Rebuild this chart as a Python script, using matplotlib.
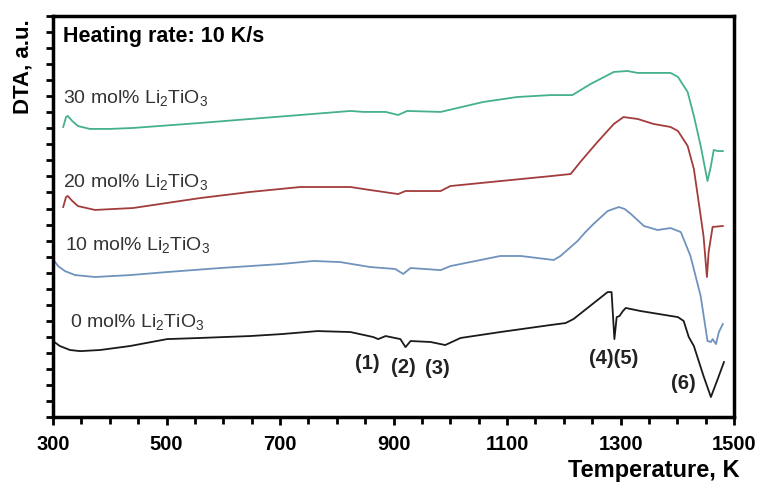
import matplotlib
matplotlib.use("Agg")
import matplotlib.pyplot as plt
from matplotlib.ticker import MultipleLocator, NullFormatter

plt.rcParams['font.family'] = ['Liberation Sans', 'DejaVu Sans']
plt.rcParams['mathtext.fontset'] = 'custom'
plt.rcParams['mathtext.rm'] = 'Liberation Sans'
plt.rcParams['mathtext.default'] = 'regular'

# ---- data (temperature K, DTA a.u.) ----
t30 = [318, 323, 326, 334, 344, 365, 401, 441, 559, 647, 736, 824, 847, 886, 908, 924, 983, 1058, 1118,
       1177, 1215, 1247, 1288, 1312, 1330, 1388, 1401, 1418, 1429, 1441, 1453, 1459, 1464, 1471, 1480]
d30 = [18.08, 18.70, 18.77, 18.45, 18.14, 17.96, 17.96, 18.02, 18.33, 18.58, 18.83, 19.08, 19.02, 19.02,
       18.83, 19.08, 19.02, 19.64, 19.95, 20.07, 20.07, 20.76, 21.51, 21.57, 21.45, 21.45, 21.20, 20.26,
       18.77, 16.90, 14.71, 15.65, 16.65, 16.58, 16.58]

t20 = [318, 323, 326, 334, 344, 374, 441, 559, 647, 736, 824, 859, 908, 921, 983, 1000, 1088, 1177, 1212,
       1229, 1259, 1288, 1305, 1330, 1358, 1388, 1401, 1418, 1429, 1441, 1446, 1452, 1455, 1462, 1480]
d20 = [13.09, 13.72, 13.78, 13.47, 13.15, 12.91, 13.03, 13.65, 14.03, 14.34, 14.34, 14.15, 13.90, 14.09,
       14.09, 14.40, 14.71, 15.02, 15.15, 15.90, 17.14, 18.27, 18.70, 18.58, 18.27, 18.08, 17.83, 16.90,
       15.46, 12.53, 11.28, 8.73, 10.29, 11.85, 11.91]

t10 = [300, 309, 321, 339, 374, 436, 501, 595, 702, 759, 806, 859, 903, 917, 930, 983, 1000, 1088, 1124,
       1182, 1194, 1224, 1238, 1252, 1277, 1287, 1297, 1307, 1318, 1341, 1365, 1388, 1406, 1423, 1441,
       1453, 1459, 1462, 1468, 1473, 1480]
d10 = [9.85, 9.41, 9.10, 8.85, 8.73, 8.85, 9.04, 9.29, 9.54, 9.73, 9.66, 9.35, 9.23, 8.92, 9.29, 9.16,
       9.41, 10.04, 10.04, 9.79, 10.04, 10.97, 11.53, 12.03, 12.84, 12.97, 13.09, 12.97, 12.66, 11.91,
       11.66, 11.78, 11.53, 10.04, 7.54, 4.74, 4.68, 4.86, 4.55, 5.30, 5.80]

t0 = [300, 312, 330, 348, 383, 436, 501, 559, 647, 702, 766, 824, 864, 873, 886, 912, 921, 930, 965, 991,
      1018, 1088, 1177, 1203, 1217, 1277, 1284, 1289, 1293, 1298, 1304, 1309, 1335, 1401, 1411, 1420,
      1429, 1446, 1459, 1471, 1482]
d0 = [4.74, 4.43, 4.18, 4.11, 4.18, 4.43, 4.86, 4.93, 5.05, 5.17, 5.36, 5.30, 4.99, 4.86, 5.05, 4.86,
      4.36, 4.74, 4.68, 4.49, 4.93, 5.30, 5.74, 5.86, 6.11, 7.79, 7.79, 4.86, 6.23, 6.30, 6.61, 6.80,
      6.61, 6.23, 5.99, 4.99, 4.43, 2.56, 1.25, 2.37, 3.43]

series_labels = ['30 mol% Li$_2$TiO$_3$', '20 mol% Li$_2$TiO$_3$',
                 '10 mol% Li$_2$TiO$_3$', '0 mol% Li$_2$TiO$_3$']
label_x = [318, 318, 321, 330]
label_y = [19.64, 14.40, 10.47, 5.67]

peak_labels = ['(1)', '(2)', '(3)', '(4)(5)', '(6)']
peak_x = [854, 917, 977, 1288, 1411]
peak_y = [3.43, 3.18, 3.12, 3.74, 2.18]

xticks = [300, 500, 700, 900, 1100, 1300, 1500]

# ---- figure ----
fig = plt.figure(figsize=(7.59, 4.85), dpi=100)
ax = fig.add_axes([0.0698, 0.138, 0.8975, 0.827])

colors = ['#45b08f', '#a33c3c', '#6f93bd', '#1a1a1a']
for t, d, c in zip([t30, t20, t10, t0], [d30, d20, d10, d0], colors):
    ax.plot(t, d, color=c, lw=1.3, solid_joinstyle='round')

ax.set_xlim(300, 1500)
ax.set_ylim(0, 25)
ax.set_xticks(xticks)
ax.xaxis.set_minor_locator(MultipleLocator(50))
ax.yaxis.set_major_locator(MultipleLocator(1))
ax.yaxis.set_major_formatter(NullFormatter())
for lbl in ax.get_xticklabels():
    lbl.set_fontweight('bold')
ax.tick_params(axis='x', which='major', direction='out', length=6, width=2, labelsize=14.5, pad=6)
ax.tick_params(axis='x', which='minor', direction='out', length=5, width=2)
ax.tick_params(axis='y', which='major', direction='out', length=5, width=2)
for s in ax.spines.values():
    s.set_linewidth(2.5)

ax.text(318, 23.44, 'Heating rate: 10 K/s', fontsize=15.5, fontweight='bold', va='baseline', ha='left')
for txt, x, y in zip(series_labels, label_x, label_y):
    ax.text(x, y, txt, fontsize=14, color='#333333', va='baseline', ha='left')
for txt, x, y in zip(peak_labels, peak_x, peak_y):
    ax.text(x, y, txt, fontsize=14.5, fontweight='bold', color='#222222', va='center', ha='center')

fig.text(23 / 759, 1 - 67 / 485, 'DTA, a.u.', rotation=90, fontsize=16, fontweight='bold',
         ha='center', va='center')
fig.text(740 / 759, 1 - 471 / 485, 'Temperature, K', fontsize=17, fontweight='bold',
         ha='right', va='center')

fig.savefig('out.png', dpi=100)
